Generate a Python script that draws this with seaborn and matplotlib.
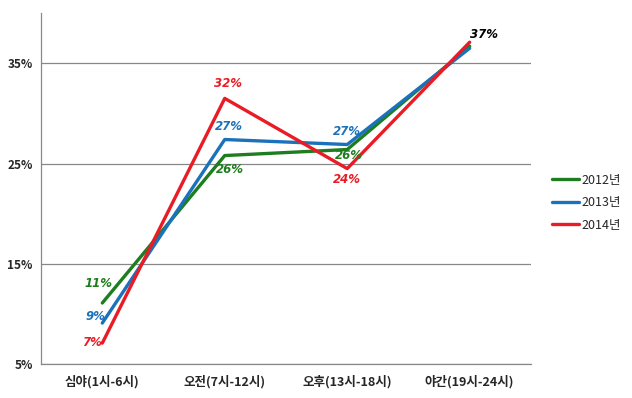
import numpy as np
import pandas as pd
import seaborn as sns
import matplotlib.pyplot as plt

# data
categories = ["심야(1시-6시)", "오전(7시-12시)", "오후(13시-18시)", "야간(19시-24시)"]
years = ["2012년", "2013년", "2014년"]
v2012 = [11.1, 25.8, 26.4, 36.7]
v2013 = [9.1, 27.4, 26.9, 36.5]
v2014 = [7.1, 31.5, 24.5, 37.1]
labels2012 = ["11%", "26%", "26%", ""]
labels2013 = ["9%", "27%", "27%", ""]
labels2014 = ["7%", "32%", "24%", "37%"]
yticks = [5, 15, 25, 35]

colors = {"2012년": "#1E7D1E", "2013년": "#1C72BA", "2014년": "#EA1B24"}

rows = []
for yr, vals in zip(years, [v2012, v2013, v2014]):
    for i, v in enumerate(vals):
        rows.append({"pos": i, "value": v, "year": yr})
df = pd.DataFrame(rows)

sns.set_style("white")
plt.rcParams['font.family'] = ['Noto Sans CJK KR', 'DejaVu Sans']

fig = plt.figure(figsize=(6.32, 3.98), dpi=100)
ax = fig.add_axes([0.065, 0.085, 0.775, 0.882])

sns.lineplot(data=df, x="pos", y="value", hue="year", palette=colors,
             linewidth=2.4, ax=ax, legend=True)

ax.set_xlim(-0.5, 3.5)
ax.set_ylim(5, 40)
ax.set_yticks(yticks)
ax.set_yticklabels([f"{t}%" for t in yticks], fontsize=8.5, fontweight="bold")
ax.set_xticks(range(len(categories)))
ax.set_xticklabels(categories, fontsize=9, fontweight="bold")
ax.set_xticks([-0.5, 0.5, 1.5, 2.5, 3.5], minor=True)
ax.tick_params(axis="x", which="major", length=0, pad=8)
ax.tick_params(axis="x", which="minor", length=5, color="#888888", direction="out")
ax.tick_params(axis="y", length=0, pad=6)
ax.set_xlabel("")
ax.set_ylabel("")
ax.grid(axis="y", color="#888888", linewidth=0.9)
for s in ["top", "right"]:
    ax.spines[s].set_visible(False)
for s in ["left", "bottom"]:
    ax.spines[s].set_color("#888888")
    ax.spines[s].set_linewidth(0.9)

# value labels (offset from the point, in data units)
offsets = {
    "2012년": [(-0.03, 1.9), (0.04, -1.4), (0.01, -0.6), (0, 0)],
    "2013년": [(-0.06, 0.7), (0.03, 1.3), (0.0, 1.3), (0, 0)],
    "2014년": [(-0.08, 0.1), (0.03, 1.5), (0.0, -1.1), (0.12, 0.8)],
}
for yr, vals, labs in zip(years, [v2012, v2013, v2014], [labels2012, labels2013, labels2014]):
    for i, (v, lab) in enumerate(zip(vals, labs)):
        if not lab:
            continue
        dx, dy = offsets[yr][i]
        col = "black" if i == 3 else colors[yr]
        ax.text(i + dx, v + dy, lab, color=col, fontsize=8.5, fontweight="bold",
                style="italic", ha="center", va="center", family="DejaVu Sans")

leg = ax.legend(loc="center left", bbox_to_anchor=(1.02, 0.46), frameon=False,
                fontsize=9, handlelength=2.2, handletextpad=0.2, labelspacing=0.75)
for line in leg.get_lines():
    line.set_linewidth(2.4)

fig.savefig("out.png", dpi=100)
